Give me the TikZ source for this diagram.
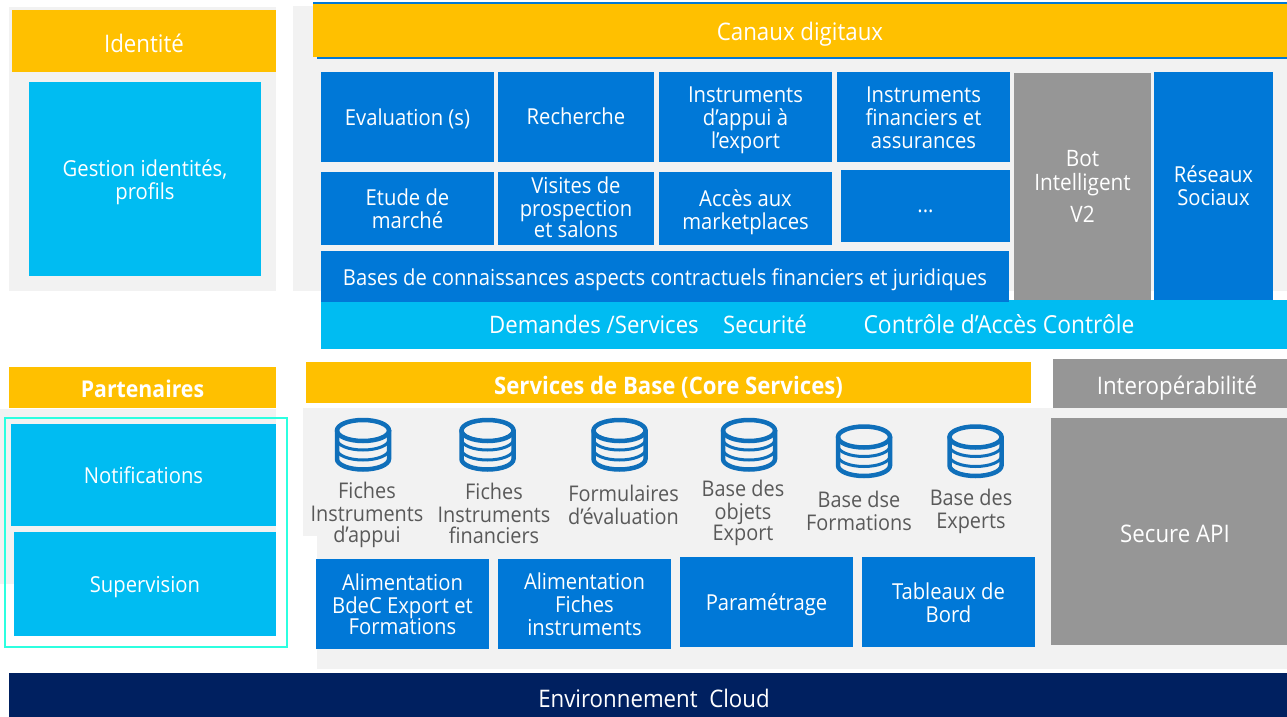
\documentclass[tikz,border=0pt]{standalone}
\usepackage{fontspec}
\setmainfont[FakeStretch=0.92]{Open Sans}
\usepackage{tikz}
\definecolor{amber}{HTML}{FFC000}
\definecolor{azure}{HTML}{0078D7}
\definecolor{sky}{HTML}{00BCF2}
\definecolor{slate}{HTML}{969696}
\definecolor{pale}{HTML}{F2F2F2}
\definecolor{navy}{HTML}{002060}
\definecolor{aqua}{HTML}{2CFFE0}
\definecolor{dbblue}{HTML}{0F6FBA}
\tikzset{
	drop/.store in=\tiledrop, drop=0,
	nudge/.store in=\tilenudge, nudge=0,
	panel/.style={draw=none, inner sep=0pt, outer sep=0pt, align=center, text=white, font=\fontsize{22}{23}\selectfont},
	bigpanel/.style={panel, font=\fontsize{24.2}{26}\selectfont},
	amberbox/.style={bigpanel, fill=amber},
	azurebox/.style={panel, fill=azure},
	skybox/.style={panel, fill=sky},
	slatebox/.style={bigpanel, fill=slate},
	navybox/.style={bigpanel, fill=navy},
	bandtext/.style={inner sep=0pt, text=white, font=\fontsize{24.1}{26}\selectfont},
	dblabel/.style={inner sep=0pt, align=center, text=black!65, font=\fontsize{21.6}{23}\selectfont},
	dbline/.style={line width=#1, color=dbblue, line cap=round}
}
\def\tile[#1](#2)(#3,#4)(#5,#6)#7{
	\node[#1, minimum width={(#5-#3)*1pt}, minimum height={(#6-#4)*1pt}] (#2) at ({(#3+#5)/2},{(#4+#6)/2}) {};
	\node[#1, xshift=\tilenudge pt, yshift=-\tiledrop pt] (#2text) at (#2) {#7};
}
\def\dbicon(#1,#2){
	\draw[dbline=4.5pt] (#1-26,#2-14) arc (180:-180:26 and 10.5);
	\draw[dbline=4.5pt] (#1-26,#2-14) -- (#1-26,#2+14.5) arc (180:0:26 and 10.5) -- (#1+26,#2-14);
	\draw[dbline=3pt] (#1-26,#2-5) arc (180:0:26 and 10.5);
	\draw[dbline=3pt] (#1-26,#2+5) arc (180:0:26 and 10.5);
}

\begin{document}
\begin{tikzpicture}[x=1pt, y=-1pt]
	\useasboundingbox (0,0) rectangle (1287,717);

	% backgrounds
	\fill[pale] (9,7) rectangle (276,291);
	\fill[pale] (293,6) rectangle (1287,291);
	\fill[pale] (0,409) rectangle (276,584);
	\fill[pale] (303,408) rectangle (1287,536);
	\fill[pale] (317,536) rectangle (1287,669);

	% identity column
	\tile[amberbox,drop=2](identite)(12,10)(276,72){Identité}
	\tile[skybox,drop=3](gestion)(29,82)(261,276){Gestion identités,\\profils}

	% digital channels
	\fill[azure] (313,2) rectangle (1287,4);
	\fill[azure] (317,57) rectangle (1287,59);
	\tile[amberbox,drop=4](canaux)(313,4)(1287,57){Canaux digitaux}

	\tile[azurebox,drop=2](evaluation)(321,72)(494,162){Evaluation (s)}
	\tile[azurebox,drop=-1](recherche)(498,72)(654,162){Recherche}
	\tile[azurebox,drop=3](appui)(659,72)(832,162){Instruments\\d’appui à\\l’export}
	\tile[azurebox,drop=1](assurances)(837,72)(1010,162){Instruments\\financiers et\\assurances}
	\tile[azurebox](etude)(321,172)(494,245){Etude de\\marché}
	\tile[azurebox,drop=-1.5](visites)(498,172)(654,245){Visites de\\prospection\\[-2pt]et salons}
	\tile[azurebox,drop=3.5](acces)(659,172)(832,245){Accès aux\\marketplaces}
	\tile[azurebox,drop=5](autres)(841,170)(1010,242){...}

	\tile[slatebox,font=\fontsize{22.6}{24}\selectfont](bot)(1014,73)(1151,300){Bot\\Intelligent\\[8pt]V2}
	\tile[azurebox](reseaux)(1154,72)(1273,300){Réseaux\\Sociaux}

	\tile[skybox](demandes)(321,300)(1287,349){}
	\tile[azurebox,drop=3](bases)(321,251)(1009,302){Bases de connaissances aspects contractuels financiers et juridiques}
	\node[bandtext] (services) at (594,324) {Demandes /Services};
	\node[bandtext] (securite) at (765,324) {Securité};
	\node[bandtext,font=\fontsize{24.8}{26}\selectfont] (controle) at (999,324) {Contrôle d’Accès Contrôle};

	% partners column
	\tile[amberbox,drop=1,font=\fontsize{23.1}{25}\selectfont\bfseries](partenaires)(9,367)(276,408){Partenaires}
	\tile[skybox](notifications)(11,424)(276,526){Notifications}
	\tile[skybox,drop=3](supervision)(14,532)(276,636){Supervision}
	\draw[aqua, line width=2pt] (5,417.5) rectangle (286.5,646.5);

	% core services
	\tile[amberbox,drop=5,font=\fontsize{24.1}{26}\selectfont\bfseries](core)(306,362)(1031,403){Services de Base (Core Services)}
	\tile[slatebox,drop=5,nudge=7](interop)(1053,359)(1287,408){Interopérabilité}
	\tile[slatebox,drop=2,nudge=6](api)(1051,418)(1287,645){Secure API}

	\dbicon(363,444.5)
	\dbicon(487.5,444.5)
	\dbicon(619.5,444.5)
	\dbicon(749,444.5)
	\dbicon(864,451)
	\dbicon(975.5,451)

	\node[dblabel] (fichesappui) at (367,515) {Fiches\\Instruments\\[-2pt]d’appui};
	\node[dblabel] (fichesfin) at (494,513) {Fiches\\Instruments\\[-2pt]financiers};
	\node[dblabel] (formulaires) at (623.5,504.5) {Formulaires\\d’évaluation};
	\node[dblabel] (objets) at (743,512.5) {Base des\\objets\\[-2pt]Export};
	\node[dblabel] (formations) at (859,510.5) {Base dse\\Formations};
	\node[dblabel] (experts) at (971,511.5) {Base des\\Experts};

	\tile[azurebox](alimexport)(316,559)(489,649){Alimentation\\BdeC Export et\\[-2pt]Formations}
	\tile[azurebox](alimfiches)(498,559)(671,649){Alimentation\\Fiches\\instruments}
	\tile[azurebox,drop=3](parametrage)(680,557)(853,647){Paramétrage}
	\tile[azurebox,drop=0.5](tableaux)(862,557)(1035,647){Tableaux de\\Bord}

	\tile[navybox,drop=3,nudge=6](cloud)(9,673)(1287,717){Environnement~ Cloud}
\end{tikzpicture}
\end{document}
